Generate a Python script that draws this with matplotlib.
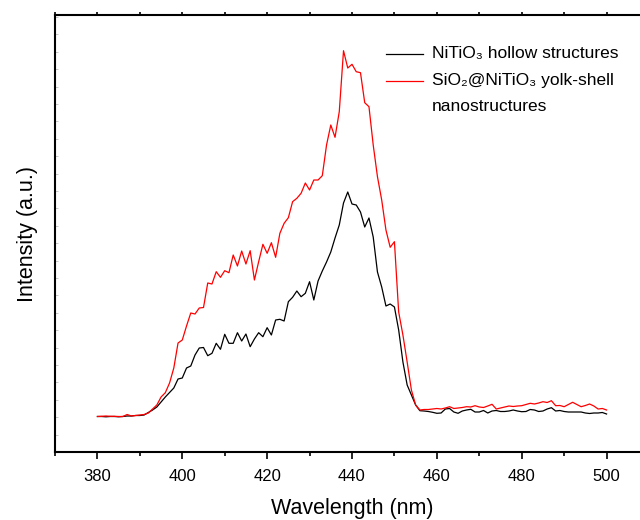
import numpy as np
import matplotlib
matplotlib.use("Agg")
import matplotlib.pyplot as plt
from matplotlib.ticker import MultipleLocator

plt.rcParams["font.family"] = ["Liberation Sans", "DejaVu Sans"]

wavelength = np.arange(380, 501)

# intensity (a.u.), 1 nm steps
hollow = [35.5, 35.5, 35.2, 35.5, 35.5, 35.2, 35.5, 36, 36, 36.5,
          36.5, 37, 39.5, 42, 45, 50, 55, 59.5, 64, 73,
          74, 84, 86, 97, 104, 104.5, 96.3, 98.7, 108.7, 102.7,
          117.7, 108.7, 108.7, 119.3, 111, 118, 105.3, 113, 119.3, 115.3,
          124.3, 117, 132, 132.7, 131, 150.3, 154.7, 161, 155.3, 158.7,
          170.3, 152, 171, 181, 190, 200, 214, 227, 249, 260,
          248, 247, 240, 225, 234, 215, 180, 165, 146, 148,
          145, 122, 90, 67, 57, 47, 41.3, 41, 40.5, 39.7,
          38.7, 39, 43, 43.5, 40, 38.7, 41, 42, 42.7, 40,
          40, 41.5, 39, 41, 41.5, 40.5, 40.5, 41, 42, 41,
          40.3, 40.5, 42.5, 42, 40.5, 41, 43, 44.3, 41, 41.5,
          40.5, 40, 40, 40, 40, 39, 38.5, 39, 39, 39.5,
          38]

yolk_shell = [35.5, 35.7, 36, 35.7, 35.7, 35.5, 35.5, 37.5, 36, 36.5,
              37, 37.5, 39, 43, 47, 55, 59.3, 69, 84, 109,
              112, 126, 139, 138, 144, 144.5, 169, 168, 180.3, 174.7,
              181.3, 179.3, 197, 186, 201, 188, 201.3, 172, 190.3, 207.7,
              198.7, 209.3, 194.7, 218.7, 228.7, 234.3, 250.3, 253.7, 258.7, 269,
              262, 272, 272, 276.3, 307, 327, 314.7, 340.3, 401.3, 384,
              387.7, 380.3, 379.3, 349.3, 345.3, 307, 275.3, 252, 222, 204.7,
              210.3, 140, 117, 90, 62, 47, 42, 42.5, 42.5, 43,
              43.5, 43, 44, 45.3, 43.5, 44, 44.5, 45.3, 45, 46.3,
              45, 44.5, 46, 47.7, 43, 44, 45, 46, 45.5, 46,
              46.3, 47.5, 48.7, 48, 49, 50.3, 49.5, 51.3, 46.3, 46.5,
              45.3, 47.5, 49.7, 47.5, 45.3, 46.5, 48, 46, 43, 43.5,
              42]

labels = [["NiTiO\u2083 hollow structures"],
          ["SiO\u2082@NiTiO\u2083 yolk-shell", "nanostructures"]]
colors = ["black", "red"]

fig = plt.figure(figsize=(6.4, 5.2), dpi=100)
# right spine falls just outside the picture, as in the reference crop
ax = fig.add_axes([55 / 640, 68 / 520, 594 / 640, 437 / 520])

ax.plot(wavelength, hollow, color=colors[0], lw=0.9)
ax.plot(wavelength, yolk_shell, color=colors[1], lw=0.9)

ax.set_xlim(370, 510)
ax.set_ylim(0, 437)
ax.xaxis.set_major_locator(MultipleLocator(20))
ax.xaxis.set_minor_locator(MultipleLocator(10))
ax.yaxis.set_minor_locator(MultipleLocator(17.4))
ax.set_yticks([])
ax.tick_params(axis="x", which="major", direction="out", length=5, width=1.2,
               labelsize=12, pad=7.5)
ax.tick_params(axis="x", which="minor", direction="out", length=3, width=1.2)
ax.tick_params(axis="x", which="both", top=True, labeltop=False)
for t in ax.xaxis.get_major_ticks() + ax.xaxis.get_minor_ticks():
    t.tick2line.set_markersize(2)
    t.tick2line.set_color("0.5")
ax.tick_params(axis="y", which="minor", direction="in", length=2, width=0.6,
               color="0.75", left=True)
for s in ax.spines.values():
    s.set_linewidth(1.5)

ax.set_xlabel("Wavelength (nm)", fontsize=15.5, labelpad=10)
ax.set_ylabel("Intensity (a.u.)", fontsize=15.5, labelpad=9)

# legend drawn by hand so the wrapped label keeps the handle on its first line
leg_y = [0.9108, 0.849]
line_step = 0.0595
for c, lines, y in zip(colors, labels, leg_y):
    ax.plot([0.5572, 0.6195], [y, y], color=c, lw=0.9, transform=ax.transAxes)
    for i, s in enumerate(lines):
        ax.text(0.6347, y - i * line_step, s, transform=ax.transAxes,
                fontsize=12.5, va="center", ha="left")

fig.savefig("out.png", dpi=100)
